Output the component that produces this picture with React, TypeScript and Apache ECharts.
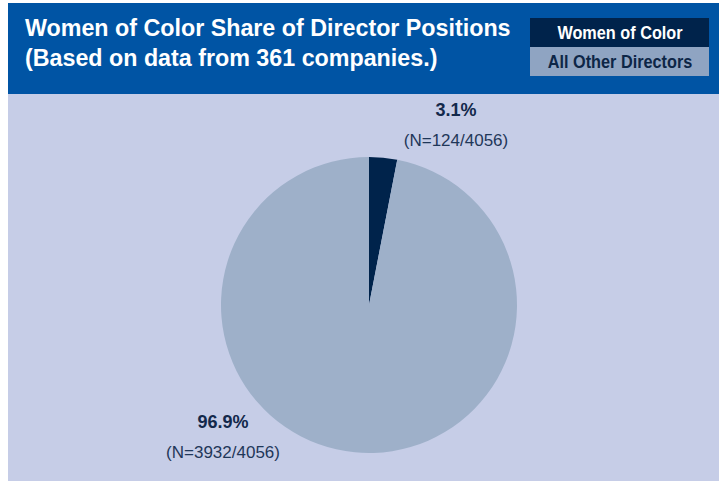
import React, { useEffect, useRef } from "react";
import * as echarts from "echarts";

const categories = ["Women of Color", "All Other Directors"];
const counts = [124, 3932];
const titleLines = ["Women of Color Share of Director Positions", "(Based on data from 361 companies.)"];

const sliceColors = ["#00234b", "#9eb0c9"];
const legendBoxColors = ["#00234b", "#8fa4c2"];
const legendTextColors = ["#ffffff", "#0d2647"];

export default function App() {
  const ref = useRef<HTMLDivElement>(null);
  useEffect(() => {
    if (!ref.current) return;
    const chart = echarts.init(ref.current, null, { renderer: "svg" });
    const total = counts.reduce((a, b) => a + b, 0);
    const labelPos = [
      { x: 456, y: 125 },
      { x: 223, y: 437 },
    ];
    const font = "Liberation Sans, Arial, sans-serif";
    const graphics: any[] = [
      { type: "rect", z: -10, shape: { x: 8, y: 3, width: 711, height: 91 }, style: { fill: "#0054a4" }, silent: true },
      { type: "rect", z: -10, shape: { x: 8, y: 94, width: 711, height: 387 }, style: { fill: "#c6cde7" }, silent: true },
    ];
    titleLines.forEach((t, i) => {
      graphics.push({
        type: "text",
        x: 25,
        y: 28 + i * 29.5,
        scaleX: 0.97,
        style: { text: t, fill: "#ffffff", font: `bold 24px ${font}`, textVerticalAlign: "middle", textAlign: "left" },
      });
    });
    categories.forEach((c, i) => {
      graphics.push({
        type: "rect",
        shape: { x: 530, y: 18 + i * 29, width: 179, height: 29 },
        style: { fill: legendBoxColors[i] },
      });
      graphics.push({
        type: "text",
        x: 620,
        y: 33 + i * 29,
        scaleX: 0.93,
        style: { text: c, fill: legendTextColors[i], font: `bold 17.5px ${font}`, textAlign: "center", textVerticalAlign: "middle" },
      });
    });
    chart.setOption({
      animation: false,
      graphic: graphics,
      series: [
        {
          type: "pie",
          center: [369, 305],
          radius: 148,
          startAngle: 90,
          clockwise: true,
          percentPrecision: 1,
          data: categories.map((c, i) => ({ name: c, value: counts[i], itemStyle: { color: sliceColors[i] } })),
          labelLine: { show: false },
          label: {
            show: true,
            position: "outside",
            formatter: (p: any) => `{p|${p.percent.toFixed(1)}%}\n{n|(N=${p.value}/${total})}`,
            rich: {
              p: { fontFamily: font, fontWeight: "bold", fontSize: 18, color: "#13294b", lineHeight: 30, align: "center" },
              n: { fontFamily: font, fontSize: 17, color: "#1f3759", lineHeight: 30, align: "center" },
            },
          },
          labelLayout: (params: any) => {
            const pos = labelPos[params.dataIndex];
            return { x: pos.x, y: pos.y, align: "center", verticalAlign: "middle" };
          },
          emphasis: { disabled: true },
        },
      ],
    });
    return () => chart.dispose();
  }, []);
  return <div ref={ref} style={{ position: "absolute", left: 0, top: 0, width: 725, height: 481 }} />;
}
